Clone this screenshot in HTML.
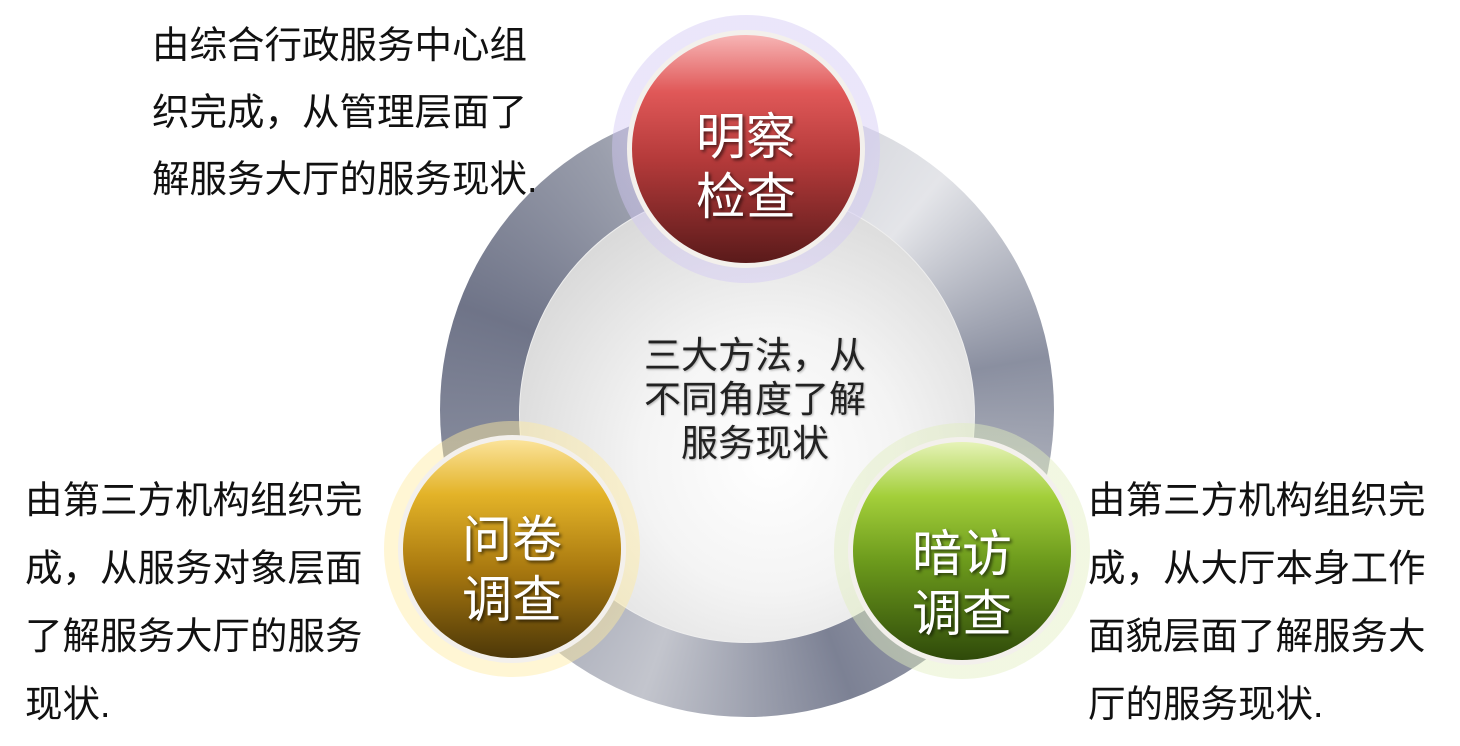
<!DOCTYPE html>
<html><head><meta charset="utf-8"><style>
body{margin:0;width:1460px;height:746px;background:#fff;position:relative;overflow:hidden;font-family:"Liberation Sans","Noto Sans CJK SC",sans-serif}
.abs{position:absolute}
.txt{position:absolute;font-size:37.5px;color:#111;line-height:67px;white-space:nowrap}
.ring{left:440px;top:103px;width:614px;height:614px;border-radius:50%;
background:conic-gradient(from 0deg,#c9cbd2 0deg,#e4e5e9 40deg,#8a8fa0 80deg,#b4b7c1 110deg,#7c8194 160deg,#c3c5cd 200deg,#8d92a3 250deg,#6f7488 290deg,#9a9eac 330deg,#c9cbd2 360deg)}
.inner{left:519px;top:187px;width:456px;height:456px;border-radius:50%;
background:radial-gradient(circle at 55% 60%,#ffffff 0%,#f4f4f4 35%,#d6d6d6 80%,#c4c4c4 100%);border:1px solid #eee;box-sizing:border-box}
.glow{border-radius:50%}
.ball{border-radius:50%;border:5px solid #f3f0ec;box-sizing:border-box;color:#fff;text-align:center;font-size:50px;line-height:60px;text-shadow:2px 2px 3px rgba(0,0,0,.6);display:flex;align-items:center;justify-content:center}
.ct{color:#222;font-size:37px;line-height:44px;text-align:center;text-shadow:1px 1px 2px rgba(0,0,0,.3)}
</style></head><body>
<div class="abs ring"></div>
<div class="abs inner"></div>
<div class="abs ct" style="left:600px;top:334px;width:310px">三大方法，从<br>不同角度了解<br>服务现状</div>

<div class="abs glow" style="left:612px;top:15px;width:268px;height:268px;background:radial-gradient(circle,rgba(210,200,245,.45) 86%,rgba(225,220,250,0) 100%)"></div>
<div class="abs ball" style="left:627px;top:30px;width:238px;height:238px;background:linear-gradient(#f7b5b5 0%,#e05858 25%,#b43a3a 55%,#5a1a1a 100%)"><div style="margin-top:36px">明察<br>检查</div></div>

<div class="abs glow" style="left:384px;top:421px;width:256px;height:256px;background:radial-gradient(circle,rgba(255,235,160,.45) 86%,rgba(255,240,190,0) 100%)"></div>
<div class="abs ball" style="left:398px;top:435px;width:228px;height:228px;background:linear-gradient(#fbe39a 0%,#e3b328 25%,#a8780f 60%,#4d3808 100%)"><div style="margin-top:42px">问卷<br>调查</div></div>

<div class="abs glow" style="left:834px;top:423px;width:256px;height:256px;background:radial-gradient(circle,rgba(225,238,190,.45) 86%,rgba(230,240,200,0) 100%)"></div>
<div class="abs ball" style="left:848px;top:437px;width:228px;height:228px;background:linear-gradient(#e6f3b8 0%,#a3cf3a 25%,#6c9a1c 55%,#2f4a0a 100%)"><div style="margin-top:66px">暗访<br>调查</div></div>

<div class="txt" style="left:152px;top:12px">由综合行政服务中心组<br>织完成，从管理层面了<br>解服务大厅的服务现状.</div>
<div class="txt" style="left:25px;top:466px;line-height:68px">由第三方机构组织完<br>成，从服务对象层面<br>了解服务大厅的服务<br>现状.</div>
<div class="txt" style="left:1088px;top:466px;line-height:68px">由第三方机构组织完<br>成，从大厅本身工作<br>面貌层面了解服务大<br>厅的服务现状.</div>
</body></html>
